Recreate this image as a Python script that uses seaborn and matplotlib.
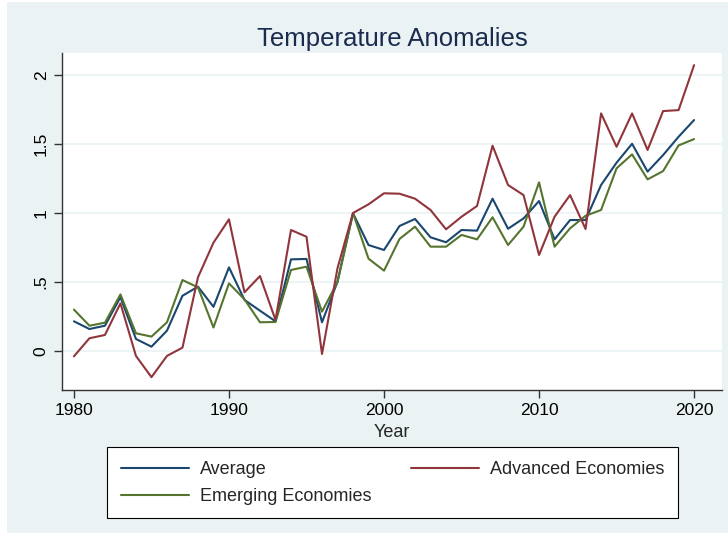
import seaborn as sns
import matplotlib.pyplot as plt
import matplotlib.patches as mpatches
import pandas as pd

years = list(range(1980, 2021))
average = [0.215, 0.159, 0.183, 0.39, 0.087, 0.031, 0.147, 0.40, 0.466, 0.32,
           0.606, 0.37, 0.292, 0.215, 0.664, 0.667, 0.208, 0.502, 0.998, 0.768,
           0.732, 0.906, 0.957, 0.824, 0.788, 0.877, 0.872, 1.104, 0.886, 0.961,
           1.087, 0.809, 0.949, 0.949, 1.203, 1.365, 1.502, 1.30, 1.42, 1.553,
           1.674]
advanced = [-0.039, 0.092, 0.116, 0.345, -0.036, -0.19, -0.036, 0.024, 0.534, 0.785,
            0.954, 0.425, 0.543, 0.225, 0.877, 0.828, -0.022, 0.60, 1.0, 1.063,
            1.143, 1.14, 1.104, 1.022, 0.882, 0.973, 1.051, 1.488, 1.203, 1.130,
            0.696, 0.973, 1.13, 0.884, 1.722, 1.48, 1.722, 1.457, 1.739, 1.746,
            2.072]
emerging = [0.30, 0.183, 0.205, 0.41, 0.128, 0.104, 0.208, 0.514, 0.461, 0.17,
            0.49, 0.374, 0.208, 0.21, 0.587, 0.611, 0.285, 0.50, 1.0, 0.669,
            0.582, 0.812, 0.901, 0.756, 0.756, 0.841, 0.809, 0.969, 0.768, 0.901,
            1.222, 0.756, 0.889, 0.98, 1.022, 1.324, 1.425, 1.244, 1.304, 1.49,
            1.536]

df = pd.DataFrame({"Year": years, "Average": average,
                   "Emerging Economies": emerging, "Advanced Economies": advanced})
long = df.melt(id_vars="Year", var_name="Series", value_name="Anomaly")

sns.set_style("white")
plt.rcParams['font.family'] = ['Liberation Sans', 'DejaVu Sans']

fig = plt.figure(figsize=(7.28, 5.33), dpi=100, facecolor="white")
# stata-like light blue page background
fig.patches.append(mpatches.Rectangle((7 / 728, 0), 1, 531 / 533, transform=fig.transFigure,
                                      facecolor="#eaf2f3", edgecolor="none", zorder=-10))

ax = fig.add_axes([62 / 728, 143 / 533, 660 / 728, 337 / 533])
ax.set_facecolor("white")
palette = {"Average": "#1a476f", "Advanced Economies": "#90353b", "Emerging Economies": "#55752f"}
sns.lineplot(data=long, x="Year", y="Anomaly", hue="Series", palette=palette,
             hue_order=["Average", "Emerging Economies", "Advanced Economies"],
             linewidth=1.5, ax=ax)

ax.set_xlim(1979.23, 2021.8)
ax.set_ylim(-0.283, 2.16)
ax.set_xticks([1980, 1990, 2000, 2010, 2020])
ax.set_yticks([0, 0.5, 1, 1.5, 2])
ax.set_yticklabels(["0", ".5", "1", "1.5", "2"], rotation=90, va="center")
ax.yaxis.grid(True, color="#eaf2f3", linewidth=1.2)
ax.xaxis.grid(False)
for s in ["top", "right"]:
    ax.spines[s].set_visible(False)
for s in ["left", "bottom"]:
    ax.spines[s].set_color("#333333")
    ax.spines[s].set_linewidth(1)
ax.tick_params(axis="both", direction="out", length=6, width=1, color="#333333",
               labelsize=12.5, labelcolor="black", left=True, bottom=True)
ax.set_xlabel("Year", fontsize=13, labelpad=4)
ax.set_ylabel("")
ax.set_title("Temperature Anomalies", fontsize=18.5, color="#1a2b50", pad=5)

ax.legend(loc="upper left", bbox_to_anchor=(107 / 728, 85 / 533, 571 / 728, 0.001),
          bbox_transform=fig.transFigure, ncol=2, mode="expand", frameon=True,
          fancybox=False, edgecolor="black", framealpha=1, fontsize=13,
          handlelength=3.8, handletextpad=0.6, borderpad=0.75, labelspacing=0.55,
          borderaxespad=0, columnspacing=0.5, title=None)
ax.get_legend().get_frame().set_linewidth(0.8)

plt.savefig("out.png", dpi=100, facecolor=fig.get_facecolor())
